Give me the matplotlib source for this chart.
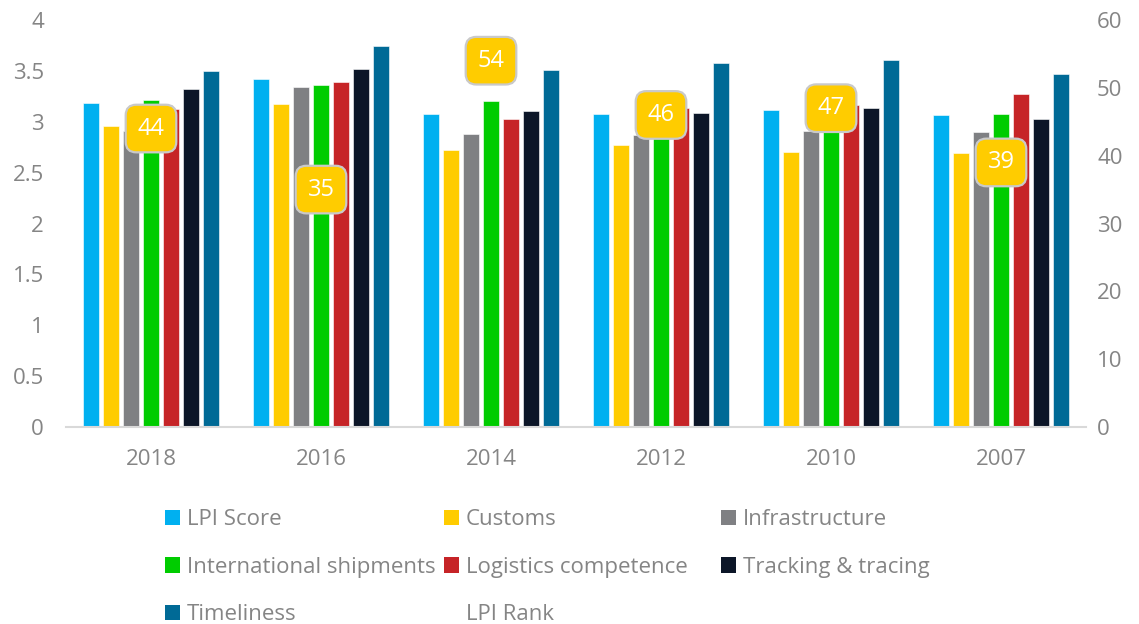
import matplotlib.pyplot as plt
import numpy as np
from matplotlib.lines import Line2D
from matplotlib.patches import Patch

plt.rcParams['font.family'] = ['Open Sans', 'DejaVu Sans']

years = ["2018", "2016", "2014", "2012", "2010", "2007"]
lpi_score = [3.18, 3.42, 3.08, 3.08, 3.12, 3.07]
customs = [2.96, 3.17, 2.72, 2.77, 2.70, 2.69]
infrastructure = [2.91, 3.34, 2.88, 2.87, 2.91, 2.90]
intl_shipments = [3.21, 3.36, 3.20, 2.98, 3.13, 3.08]
logistics = [3.13, 3.39, 3.03, 3.14, 3.16, 3.27]
tracking = [3.32, 3.52, 3.11, 3.09, 3.14, 3.03]
timeliness = [3.50, 3.74, 3.51, 3.58, 3.61, 3.47]
lpi_rank = [44, 35, 54, 46, 47, 39]

series = [
    ("LPI Score", lpi_score, "#00B0F0"),
    ("Customs", customs, "#FFCC00"),
    ("Infrastructure", infrastructure, "#7F8083"),
    ("International shipments", intl_shipments, "#00CC00"),
    ("Logistics competence", logistics, "#C62427"),
    ("Tracking & tracing", tracking, "#0C1628"),
    ("Timeliness", timeliness, "#006A96"),
]

TXT = "#858585"
FS = 16

fig = plt.figure(figsize=(11.39, 6.24), dpi=100)
ax = fig.add_axes([66 / 1139, 1 - 427 / 624, 1020 / 1139, 407 / 624])
ax2 = ax.twinx()

x = np.arange(len(years))
step = 20 / 170
width = 16 / 170
for k, (name, vals, color) in enumerate(series):
    ax.bar(x + (k - 3) * step, vals, width=width, color=color,
           edgecolor="white", linewidth=0.4, label=name, zorder=2)

ax.set_xlim(-0.5, len(years) - 0.5)
ax.set_ylim(0, 4)
ax.set_yticks(np.arange(0, 4.01, 0.5))
ax.set_yticklabels(["0", "0.5", "1", "1.5", "2", "2.5", "3", "3.5", "4"])
ax.set_xticks(x)
ax.set_xticklabels(years)

# LPI Rank on the secondary axis: only its data labels are visible
ax2.set_ylim(0, 60)
ax2.set_yticks(np.arange(0, 61, 10))
rank_line, = ax2.plot(x, lpi_rank, linestyle="none", label="LPI Rank")
for xi, r in zip(x, lpi_rank):
    ax2.text(xi, r, str(r), ha="center", va="center", color="white",
             fontsize=FS + 1, zorder=5,
             bbox=dict(boxstyle="round,pad=0.5,rounding_size=0.45",
                       fc="#FFCC00", ec="#C9C9C9", lw=1.6))

for a in (ax, ax2):
    for s in a.spines.values():
        s.set_visible(False)
    a.tick_params(length=0, labelsize=FS, colors=TXT)
ax.spines["bottom"].set_visible(True)
ax.spines["bottom"].set_color("#D9D9D9")
ax.spines["bottom"].set_linewidth(1.5)
ax.tick_params(axis="y", pad=16)
ax.tick_params(axis="x", pad=16)
ax2.tick_params(axis="y", pad=8)

# legend: three fixed-width columns
handles = {name: Patch(facecolor=c) for name, _, c in series}
handles["LPI Rank"] = Line2D([], [], linestyle="none")
columns = [
    ["LPI Score", "International shipments", "Timeliness"],
    ["Customs", "Logistics competence", "LPI Rank"],
    ["Infrastructure", "Tracking & tracing"],
]
col_x = [165, 444, 721]
for cx, names in zip(col_x, columns):
    fig.legend([handles[n] for n in names], names, loc="upper left",
               bbox_to_anchor=(cx / 1139, 1 - 509 / 624),
               frameon=False, fontsize=FS, labelcolor=TXT,
               handlelength=0.68, handleheight=0.68, handletextpad=0.3,
               labelspacing=1.2, borderaxespad=0, borderpad=0)

fig.savefig("out.png", dpi=100, facecolor="white")
